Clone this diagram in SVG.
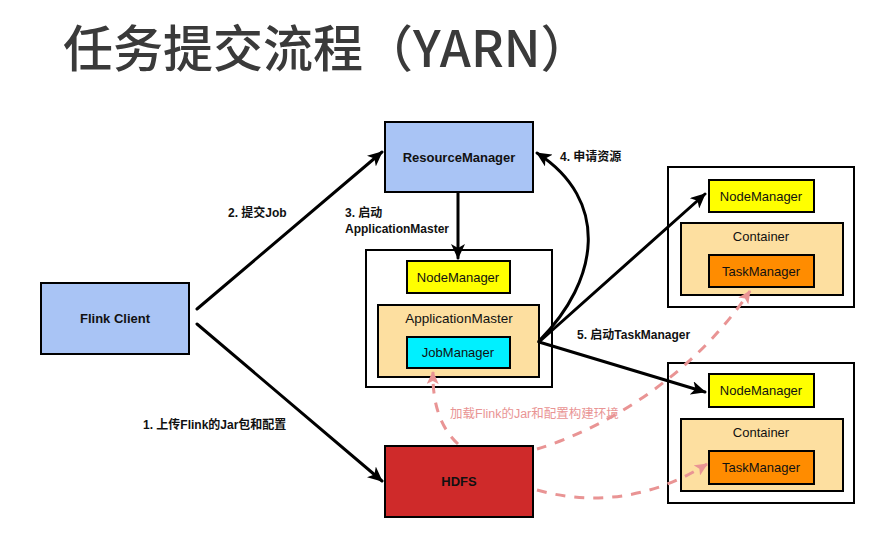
<svg xmlns="http://www.w3.org/2000/svg" width="879" height="548" viewBox="0 0 879 548">
<defs>
<style>
.box{stroke:#000;stroke-width:2}
.lbl{font-family:"Liberation Sans","Noto Sans CJK SC",sans-serif;font-size:13px;fill:#111;text-anchor:middle}
.b{font-weight:bold}
.elbl{font-family:"Liberation Sans","Noto Sans CJK SC",sans-serif;font-size:12px;font-weight:bold;fill:#111}
.line{fill:none;stroke:#000;stroke-width:3;stroke-linecap:round}
.dash{fill:none;stroke:#e99494;stroke-width:3;stroke-dasharray:10 9}
</style>
<marker id="ah" markerUnits="userSpaceOnUse" markerWidth="16" markerHeight="14" refX="14" refY="7" orient="auto">
<path d="M0,0 L15,7 L0,14 L4,7 z" fill="#000"/>
</marker>
<marker id="ahp" markerUnits="userSpaceOnUse" markerWidth="14" markerHeight="12" refX="12" refY="6" orient="auto">
<path d="M0,0 L13,6 L0,12 L3,6 z" fill="#e99494"/>
</marker>
</defs>
<rect width="879" height="548" fill="#fff"/>
<text x="63" y="67" font-family="'Noto Sans CJK SC','Noto Sans',sans-serif" font-size="50" font-weight="500" fill="#3a3a3a">任务提交流程（YARN）</text>

<g id="flink-client">
<rect class="box" x="41" y="283" width="148" height="71" fill="#a9c4f5"/>
<text class="lbl b" x="115" y="323">Flink Client</text>
</g>
<g id="resource-manager">
<rect class="box" x="385" y="122" width="148" height="70" fill="#a9c4f5"/>
<text class="lbl b" x="459" y="162">ResourceManager</text>
</g>
<g id="hdfs">
<rect class="box" x="385" y="446" width="148" height="71" fill="#cf2a2a"/>
<text class="lbl b" x="459" y="486">HDFS</text>
</g>

<g id="am-node">
<rect class="box" x="366" y="250" width="186" height="137" fill="#fff"/>
<g id="am-nodemanager">
<rect class="box" x="407" y="261" width="103" height="32" fill="#ffff00"/>
<text class="lbl" x="458" y="282">NodeManager</text>
</g>
<g id="applicationmaster">
<rect class="box" x="378" y="305" width="161" height="72" fill="#fddfa0"/>
<text class="lbl" x="459" y="323" style="font-size:13.5px">ApplicationMaster</text>
</g>
<g id="jobmanager">
<rect class="box" x="407" y="337" width="103" height="31" fill="#00f0ff"/>
<text class="lbl" x="458" y="357">JobManager</text>
</g>
</g>

<g id="node-1">
<rect class="box" x="668" y="167" width="186" height="140" fill="#fff"/>
<g id="nm-1">
<rect class="box" x="709" y="180" width="105" height="32" fill="#ffff00"/>
<text class="lbl" x="761" y="201">NodeManager</text>
</g>
<g id="container-1">
<rect class="box" x="681" y="223" width="162" height="72" fill="#fddfa0"/>
<text class="lbl" x="761" y="241">Container</text>
</g>
<g id="tm-1">
<rect class="box" x="709" y="255" width="105" height="32" fill="#ff8c00"/>
<text class="lbl" x="761" y="276">TaskManager</text>
</g>
</g>

<g id="node-2">
<rect class="box" x="668" y="363" width="186" height="140" fill="#fff"/>
<g id="nm-2">
<rect class="box" x="709" y="374" width="105" height="33" fill="#ffff00"/>
<text class="lbl" x="761" y="395">NodeManager</text>
</g>
<g id="container-2">
<rect class="box" x="681" y="419" width="162" height="72" fill="#fddfa0"/>
<text class="lbl" x="761" y="437">Container</text>
</g>
<g id="tm-2">
<rect class="box" x="709" y="451" width="105" height="33" fill="#ff8c00"/>
<text class="lbl" x="761" y="472">TaskManager</text>
</g>
</g>

<g id="connectors">
<path class="line" d="M197,309 L382,152" marker-end="url(#ah)"/>
<path class="line" d="M197,324 L382,481" marker-end="url(#ah)"/>
<path class="line" d="M458,193 L458,258" marker-end="url(#ah)"/>
<path class="line" d="M539,341 C600,280 610,200 537,153" marker-end="url(#ah)"/>
<path class="line" d="M539,342 L705,194" marker-end="url(#ah)"/>
<path class="line" d="M539,342 L705,392" marker-end="url(#ah)"/>
<path class="dash" d="M537,449 C600,430 690,380 750,291" marker-end="url(#ahp)"/>
<path class="dash" d="M537,490 C590,505 650,500 707,464" marker-end="url(#ahp)"/>
<path class="dash" d="M458,444 Q432,420 433,372" marker-end="url(#ahp)"/>
<text class="elbl" x="228" y="217">2. 提交Job</text>
<text class="elbl" x="345" y="217">3. 启动</text>
<text class="elbl" x="345" y="233">ApplicationMaster</text>
<text class="elbl" x="560" y="161">4. 申请资源</text>
<text class="elbl" x="577" y="339">5. 启动TaskManager</text>
<text class="elbl" x="143" y="429">1. 上传Flink的Jar包和配置</text>
<text x="450" y="418" font-family="'Liberation Sans','Noto Sans CJK SC',sans-serif" font-size="12.5" fill="#e99494">加载Flink的Jar和配置构建环境</text>
</g>
</svg>
